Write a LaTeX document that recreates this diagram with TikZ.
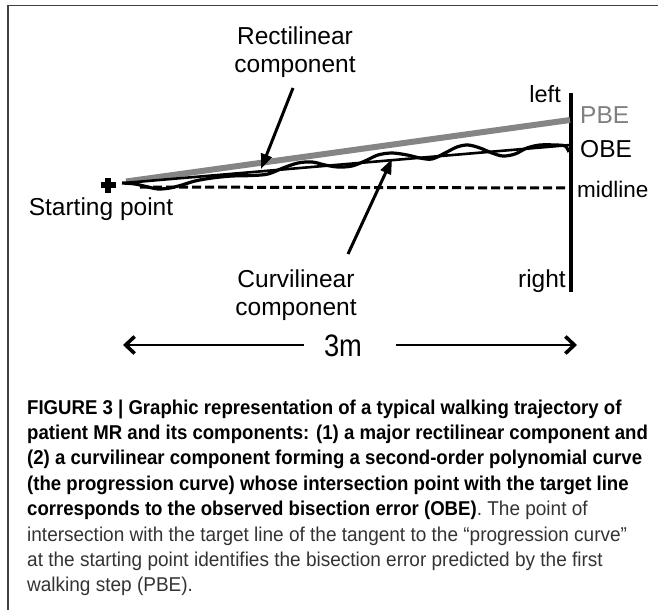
\documentclass[tikz,border=0pt]{standalone}
\usepackage{fontspec}
\setmainfont{Liberation Sans}
\newfontfamily\narrowfont[FakeStretch=0.88]{Liberation Sans}
\newfontfamily\capbfont[FakeStretch=0.93]{Liberation Sans}
\newfontfamily\capfont[FakeStretch=0.95]{Liberation Sans}
\usetikzlibrary{arrows.meta}
\begin{document}
\begin{tikzpicture}[x=1pt,y=-1pt,
  lbl/.style={inner sep=0pt, anchor=base, font=\fontsize{24.5}{28}\selectfont},
  capr/.style={inner sep=0pt, anchor=base west, font=\capfont\fontsize{20}{25}\selectfont, text=black!80},
  capb/.style={inner sep=0pt, anchor=base west, font=\capbfont\bfseries\fontsize{20}{25}\selectfont, text=black},
  frameline/.style={line width=1.5pt, black!75},
  ptr/.style={line width=3pt, -{Triangle[length=15pt,width=11pt]}},
  dimarrow/.style={line width=2.6pt, -{Straight Barb[length=9pt,width=17pt,line width=3.6pt]}},
  pbeband/.style={line width=6pt, black!48},
  obeline/.style={line width=2.6pt, black},
  traj/.style={line width=3.2pt, black, line join=round},
  midline/.style={line width=3pt, dash pattern=on 9pt off 4pt},
  target/.style={line width=3.2pt}]
\useasboundingbox (0,0) rectangle (658,610);
% frame
\draw[frameline] (7,5.5) -- (658,5.5);
\draw[frameline] (8,5) -- (8,610);
% coordinates
\coordinate (start) at (124,183);
\coordinate (pbestart) at (126,181.5);
\coordinate (midstart) at (140,187);
\coordinate (tTop) at (571,93);
\coordinate (tBot) at (571,292);
\coordinate (pbeEnd) at (570,120);
\coordinate (obeEnd) at (570,145);
\coordinate (midEnd) at (570,188);
\coordinate (cross) at (108,185);
% target line and reference lines
\draw[target] (tTop) -- (tBot);
\draw[midline] (midstart) -- (midEnd);
\draw[pbeband] (pbestart) -- (pbeEnd);
\draw[obeline] (start) -- (obeEnd);
% trajectory
\draw[traj] plot[smooth, tension=0.55] coordinates {(122,183) (135,184) (148,187) (158,189) (170,188) (182,185) (195,181) (212,178) (232,176) (252,175.5) (268,174) (283,168) (298,163) (312,162) (325,165) (338,167) (352,166) (365,161) (378,155) (392,153) (407,155) (420,158) (432,159) (445,153) (457,147) (468,145) (480,148) (492,153) (503,156) (515,154) (527,148) (540,145) (555,145) (565,146) (569,152)};
% starting cross
\draw[line width=5.5pt] ([xshift=-7.5pt]cross) -- ([xshift=7.5pt]cross);
\draw[line width=5.5pt] ([yshift=-7.5pt]cross) -- ([yshift=7.5pt]cross);
% labels
\node[lbl] (rect1) at (295,45) {Rectilinear};
\node[lbl] (rect2) at (295,72) {component};
\node[lbl] (startlbl) at (101,215) {Starting point};
\node[lbl, anchor=base east, font=\fontsize{23.5}{28}\selectfont] (leftlbl) at (561,102) {left};
\node[lbl, anchor=base west, text=black!50] (pbe) at (580,123) {PBE};
\node[lbl, anchor=base west] (obe) at (580,157) {OBE};
\node[lbl, anchor=base west, font=\fontsize{22.5}{28}\selectfont] (midlbl) at (577,197) {midline};
\node[lbl, anchor=base east] (rightlbl) at (566,287) {right};
\node[lbl] (curv1) at (296,287) {Curvilinear};
\node[lbl] (curv2) at (296,315) {component};
\node[lbl, font=\narrowfont\fontsize{31}{34}\selectfont] (dist) at (343,356) {3m};
% pointer arrows
\coordinate (rtail) at (293,88);
\coordinate (rtip) at (261,169);
\coordinate (ctail) at (348,254);
\coordinate (ctip) at (392,159);
\draw[ptr] (rtail) -- (rtip);
\draw[ptr] (ctail) -- (ctip);
% 3m dimension arrows
\coordinate (dl) at (123,345);
\coordinate (dlin) at (304,345);
\coordinate (drin) at (396,345);
\coordinate (dr) at (577,345);
\draw[dimarrow] (dlin) -- (dl);
\draw[dimarrow] (drin) -- (dr);
% caption
\node[capb] (c1) at (27,414) {FIGURE 3 | Graphic representation of a typical walking trajectory of};
\node[capb] (c2) at (27,439.4) {patient MR and its components: (1) a major rectilinear component and};
\node[capb] (c3) at (27,464.8) {(2) a curvilinear component forming a second-order polynomial curve};
\node[capb] (c4) at (27,490.2) {(the progression curve) whose intersection point with the target line};
\node[capb] (c5) at (27,515.6) {corresponds to the observed bisection error (OBE){\capfont\mdseries\color{black!80}. The point of}};
\node[capr] (c6) at (27,541) {intersection with the target line of the tangent to the “progression curve”};
\node[capr] (c7) at (27,566.4) {at the starting point identifies the bisection error predicted by the first};
\node[capr] (c8) at (27,591.8) {walking step (PBE).};
\end{tikzpicture}
\end{document}
